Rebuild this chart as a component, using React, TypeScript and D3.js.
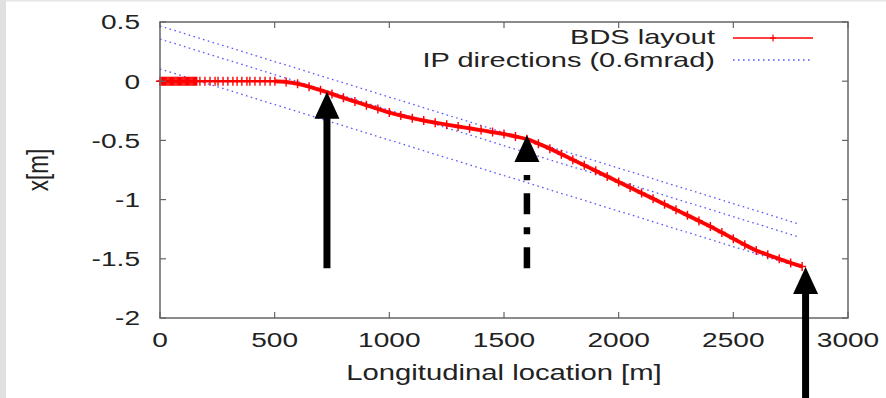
import React from 'react';
import * as d3 from 'd3';

const W = 886;
const H = 398;

const xTicks = [0, 500, 1000, 1500, 2000, 2500, 3000];
const yTicks = [0.5, 0, -0.5, -1, -1.5, -2];

// BDS layout: longitudinal location s [m] and transverse offset x [m]
const layoutS = [
  0, 5, 10, 15, 20, 25, 30, 35, 40, 45, 50, 55, 60, 65, 70, 75, 80, 85, 90, 95, 100,
  105, 110, 115, 120, 125, 130, 135, 140, 145, 150, 155, 160,
  174, 196, 218, 240, 253, 275, 296, 318, 336, 357, 379, 392, 414, 436, 458, 480, 501,
  550, 600, 650, 700, 750, 800, 850, 900, 950, 1000, 1050, 1100, 1150, 1200, 1250,
  1300, 1350, 1400, 1450, 1500, 1550, 1600, 1650, 1700, 1750, 1800, 1850, 1900,
  1950, 2000, 2050, 2100, 2150, 2200, 2250, 2300, 2350, 2400, 2450, 2500, 2550,
  2600, 2650, 2700, 2750, 2800,
];
const layoutX = [
  0, 0, 0, 0, 0, 0, 0, 0, 0, 0, 0, 0, 0, 0, 0, 0, 0, 0, 0, 0, 0,
  0, 0, 0, 0, 0, 0, 0, 0, 0, 0, 0, 0,
  0, 0, 0, 0, 0, 0, 0, 0, 0, 0, 0, 0, 0, 0, 0, 0, 0,
  -0.006, -0.022, -0.046, -0.076, -0.108, -0.14, -0.172, -0.203, -0.234, -0.265,
  -0.29, -0.312, -0.332, -0.35, -0.367, -0.383, -0.398, -0.413, -0.43, -0.447,
  -0.467, -0.49, -0.528, -0.57, -0.616, -0.663, -0.71, -0.757, -0.804, -0.851,
  -0.898, -0.945, -0.992, -1.039, -1.086, -1.133, -1.18, -1.227, -1.278, -1.33,
  -1.382, -1.43, -1.466, -1.5, -1.535, -1.565,
];

// IP direction lines: offsets at s = 0, common angle of 0.6 mrad
const ipOffsets = [0.466, 0.356, 0.103];
const ipAngle = -0.0006;
const ipEndS = 2786;

// Arrows: location, tip value, foot value (null = runs off the page)
const arrowS = [728, 1600, 2815];
const arrowTip = [-0.09, -0.455, -1.57];
const arrowFoot: (number | null)[] = [-1.58, -1.58, null];
const arrowDashed = [false, true, false];

const FONT = '"Liberation Sans", Arial, Helvetica, sans-serif';
const TEXT = '#222';
const AXIS = '#666';
const RED = '#ff0000';
const BLUE = '#5a5aff';

function Label(props: {
  x: number; y: number; size: number; sx: number; anchor?: string; dy?: string; rotate?: number; children: React.ReactNode;
}) {
  const { x, y, size, sx, anchor = 'middle', dy = '0', rotate = 0, children } = props;
  return (
    <g transform={`translate(${x},${y}) scale(${sx},1) rotate(${rotate})`}>
      <text textAnchor={anchor as any} dy={dy} fontSize={size} fontFamily={FONT} fill={TEXT}>
        {children}
      </text>
    </g>
  );
}

function Cross({ cx, cy, s = 4, w = 1.4 }: { cx: number; cy: number; s?: number; w?: number }) {
  return (
    <path d={`M${cx - s},${cy}H${cx + s}M${cx},${cy - s - 0.5}V${cy + s + 0.5}`} stroke={RED} strokeWidth={w} fill="none" />
  );
}

export default function App() {
  const left = 160, right = 848, top = 22, bottom = 318;
  const x = d3.scaleLinear().domain([0, 3000]).range([left, right]);
  const y = d3.scaleLinear().domain([-2, 0.5]).range([bottom, top]);

  const pts: [number, number][] = layoutS.map((s, i) => [s, layoutX[i]]);
  const line = d3.line<[number, number]>().x((d) => x(d[0])).y((d) => y(d[1])).curve(d3.curveCatmullRom.alpha(0.5));

  const tickLen = 6;

  return (
    <svg width={W} height={H} style={{ position: 'absolute', left: 0, top: 0, background: '#fff' }}>
      <rect x={0} y={0} width={W} height={H} fill="#fff" />
      <rect x={0} y={0} width={6} height={H} fill="#e0e0e0" />
      <rect x={6} y={0} width={W - 6} height={1.5} fill="#e6e6e6" />

      {/* IP direction lines */}
      {ipOffsets.map((c, i) => (
        <line key={`ip${i}`} x1={x(0)} y1={y(c)} x2={x(ipEndS)} y2={y(c + ipAngle * ipEndS)}
          stroke={BLUE} strokeWidth={1.3} strokeDasharray="1.6,3.4" />
      ))}

      {/* BDS layout */}
      <path d={line(pts) || ''} fill="none" stroke={RED} strokeWidth={2.6} />
      <path d={line(pts.filter((d) => d[0] >= 501)) || ''} fill="none" stroke={RED} strokeWidth={4} strokeOpacity={0.9} />
      {pts.map((d, i) => (
        <Cross key={`m${i}`} cx={x(d[0])} cy={y(d[1])} />
      ))}

      {/* frame and ticks */}
      <rect x={left} y={top} width={right - left} height={bottom - top} fill="none" stroke={AXIS} strokeWidth={1.5} />
      {xTicks.map((t) => (
        <g key={`xt${t}`}>
          <line x1={x(t)} x2={x(t)} y1={bottom} y2={bottom - tickLen} stroke={AXIS} strokeWidth={1.2} />
          <line x1={x(t)} x2={x(t)} y1={top} y2={top + tickLen} stroke={AXIS} strokeWidth={1.2} />
          <Label x={x(t)} y={347} size={20.5} sx={1.37}>{d3.format('d')(t)}</Label>
        </g>
      ))}
      {yTicks.map((t) => (
        <g key={`yt${t}`}>
          <line x1={left} x2={left + tickLen} y1={y(t)} y2={y(t)} stroke={AXIS} strokeWidth={1.2} />
          <line x1={right} x2={right - tickLen} y1={y(t)} y2={y(t)} stroke={AXIS} strokeWidth={1.2} />
          <Label x={140} y={y(t)} size={20.5} sx={1.37} anchor="end" dy="0.36em">{String(t)}</Label>
        </g>
      ))}

      <Label x={(left + right) / 2} y={380} size={22} sx={1.33}>Longitudinal location [m]</Label>
      <Label x={48} y={170} size={22.5} sx={1.33} rotate={-90}>x[m]</Label>

      {/* legend */}
      <Label x={715} y={44} size={21} sx={1.38} anchor="end">BDS layout</Label>
      <line x1={733} x2={813} y1={38} y2={38} stroke={RED} strokeWidth={1.3} />
      <Cross cx={773} cy={38} s={3} w={1.2} />
      <Label x={715} y={67} size={21} sx={1.38} anchor="end">IP directions (0.6mrad)</Label>
      <line x1={733} x2={813} y1={60} y2={60} stroke={BLUE} strokeWidth={1.3} strokeDasharray="1.6,3.4" />

      {/* arrows */}
      {arrowS.map((s, i) => {
        const cx = x(s);
        const tip = y(arrowTip[i]);
        const base = tip + 27;
        const foot = arrowFoot[i] === null ? H : y(arrowFoot[i] as number);
        return (
          <g key={`ar${i}`}>
            <path d={`M${cx},${tip}L${cx + 12.5},${base}L${cx - 12.5},${base}Z`} fill="#000" />
            {arrowDashed[i] ? (
              <line x1={cx} x2={cx} y1={foot} y2={base + 13} stroke="#000" strokeWidth={6.5} strokeDasharray="21,13,7,13" />
            ) : (
              <line x1={cx} x2={cx} y1={base - 1} y2={foot} stroke="#000" strokeWidth={7} />
            )}
          </g>
        );
      })}
    </svg>
  );
}
